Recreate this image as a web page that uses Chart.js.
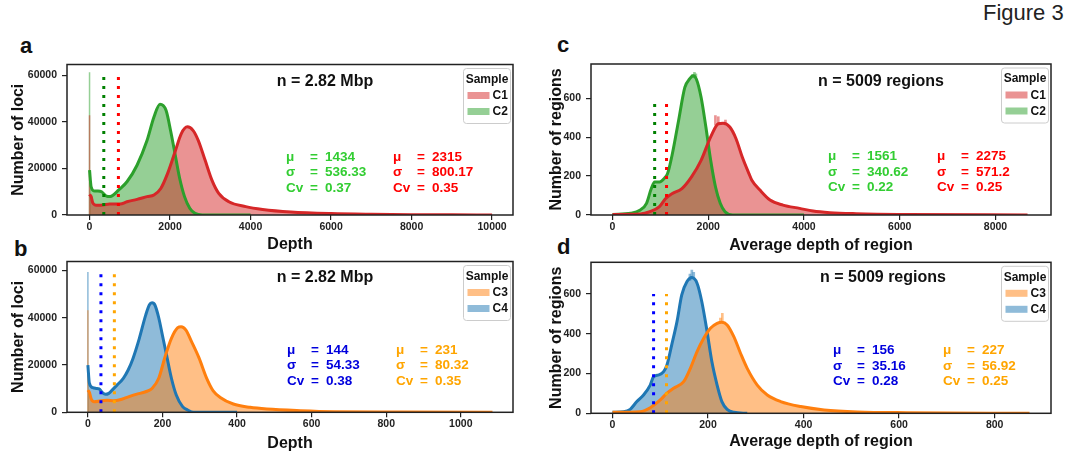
<!DOCTYPE html>
<html>
<head>
<meta charset="utf-8">
<script src="https://cdn.jsdelivr.net/npm/chart.js@4.4.0/dist/chart.umd.min.js"></script>
<style>
  body { margin: 0; width: 1080px; height: 460px; background: #fff; position: relative; overflow: hidden;
         font-family: "Liberation Sans", Arial, sans-serif; }
  canvas { position: absolute; }
  .letter { position: absolute; font-weight: bold; font-size: 22px; line-height: 22px; color: #111; }
  #fig-title { position: absolute; left: 983px; top: 2px; font-size: 22px; line-height: 22px; color: #222; }
</style>
</head>
<body>
<div id="fig-title">Figure 3</div>
<div class="letter" style="left:20px;top:35px">a</div>
<div class="letter" style="left:14px;top:238px">b</div>
<div class="letter" style="left:557px;top:34px">c</div>
<div class="letter" style="left:557px;top:236px">d</div>
<canvas id="chartA" width="540" height="215" style="left:0;top:40px;width:540px;height:215px"></canvas>
<canvas id="chartB" width="540" height="217" style="left:0;top:237px;width:540px;height:217px"></canvas>
<canvas id="chartC" width="540" height="215" style="left:540px;top:40px;width:540px;height:215px"></canvas>
<canvas id="chartD" width="540" height="217" style="left:540px;top:237px;width:540px;height:217px"></canvas>
<script>
// --- DATA ---
// panel a: depth per locus, C1 / C2
const aXTicks = [0, 2000, 4000, 6000, 8000, 10000];
const aYTicks = [0, 20000, 40000, 60000];
const aDepthC1 = [0, 40, 80, 170, 340, 500, 760, 930, 1180, 1430, 1600, 1770, 1940, 2110, 2280, 2430, 2570, 2700, 2870, 3040, 3210, 3460, 3880, 4300, 5000, 6000, 7000, 8000, 9000, 10000];
const aLociC1 = [8900, 7900, 5200, 4200, 4300, 4700, 4700, 5700, 6700, 7900, 8600, 11400, 17900, 26400, 35000, 37900, 36400, 32100, 23600, 15000, 9300, 5700, 3600, 2400, 1300, 600, 300, 150, 80, 0];
const aDepthC2 = [0, 40, 130, 210, 300, 420, 510, 590, 720, 930, 1180, 1430, 1600, 1750, 1900, 2020, 2130, 2240, 2360, 2490, 2620, 2800, 4000];
const aLociC2 = [19300, 12100, 10300, 10300, 10000, 8100, 7900, 8600, 10700, 14300, 21400, 32100, 42100, 47600, 45000, 35700, 25700, 15700, 7900, 2900, 700, 0, 0];
const aZeroC1 = 42900, aZeroC2 = 61400;
const aCutC1 = 717, aCutC2 = 354, aCutTop = 60000;
const aStatsC1 = [2315, 800.17, 0.35];
const aStatsC2 = [1434, 536.33, 0.37];

// panel b: depth per locus, C3 / C4
const bXTicks = [0, 200, 400, 600, 800, 1000];
const bYTicks = [0, 20000, 40000, 60000];
const bDepthC3 = [0, 4, 9, 17, 34, 52, 69, 86, 103, 129, 155, 172, 190, 207, 224, 241, 250, 263, 278, 298, 318, 336, 355, 390, 435, 480, 570, 660, 840, 1085];
const bLociC3 = [9400, 8500, 5600, 4500, 4900, 5100, 4900, 5300, 6200, 7600, 8700, 10100, 14400, 23500, 31300, 35800, 36200, 34800, 29900, 23000, 14600, 9100, 6300, 3500, 2100, 1400, 700, 280, 140, 0];
const bDepthC4 = [0, 4, 13, 22, 30, 39, 47, 56, 65, 78, 95, 108, 121, 138, 155, 165, 172, 180, 190, 200, 211, 224, 237, 254, 267, 284, 400];
const bLociC4 = [20000, 12300, 10400, 10100, 9900, 8300, 7600, 8000, 9400, 11500, 14400, 17900, 22800, 31300, 41100, 45500, 46300, 45300, 40000, 32500, 24200, 14400, 7300, 2400, 1000, 0, 0];
const bZeroC3 = 43200, bZeroC4 = 59400;
const bCutC3 = 71, bCutC4 = 35, bCutTop = 59300;
const bStatsC3 = [231, 80.32, 0.35];
const bStatsC4 = [144, 54.33, 0.38];

// panel c: average depth of region, C1 / C2
const cXTicks = [0, 2000, 4000, 6000, 8000];
const cYTicks = [0, 200, 400, 600];
const cDepthC1 = [0, 580, 780, 980, 1110, 1250, 1450, 1650, 1850, 2050, 2210, 2310, 2450, 2580, 2710, 2850, 2910, 3080, 3290, 3560, 3910, 4190, 4540, 5090, 6130, 8670];
const cRegionsC1 = [3, 5, 17, 43, 85, 111, 136, 196, 281, 401, 469, 472, 452, 392, 298, 213, 179, 128, 77, 51, 34, 20, 12, 7, 3, 0];
const cDepthC2 = [0, 380, 580, 710, 810, 880, 980, 1080, 1150, 1250, 1380, 1510, 1610, 1680, 1750, 1850, 1950, 2050, 2150, 2250, 2350, 2510, 4000];
const cRegionsC2 = [3, 9, 26, 60, 136, 170, 170, 188, 213, 315, 486, 656, 699, 716, 699, 605, 452, 281, 145, 60, 17, 0, 0];
// histogram bins that poke out above the density curve (bin, curve level, bin top)
const cBinsC1 = [2170, 2230, 2380];
const cBaseC1 = [462, 468, 464];
const cTopC1 = [511, 505, 488];
const cBinsC2 = [1650, 1690, 1720];
const cBaseC2 = [705, 714, 710];
const cTopC2 = [722, 733, 725];
const cCutC1 = 1128, cCutC2 = 880, cCutTop = 571;
const cStatsC1 = [2275, 571.2, 0.25];
const cStatsC2 = [1561, 340.62, 0.22];

// panel d: average depth of region, C3 / C4
const dXTicks = [0, 200, 400, 600, 800];
const dYTicks = [0, 200, 400, 600];
const dDepthC3 = [0, 58, 79, 100, 114, 128, 149, 163, 177, 191, 205, 219, 229, 240, 254, 268, 282, 303, 324, 352, 394, 443, 513, 617, 873];
const dRegionsC3 = [5, 8, 28, 67, 101, 126, 159, 226, 310, 377, 427, 452, 458, 444, 385, 302, 226, 142, 92, 59, 34, 17, 7, 3, 0];
const dDepthC4 = [0, 23, 37, 51, 65, 79, 86, 97, 107, 114, 124, 135, 145, 156, 166, 177, 187, 198, 208, 219, 229, 240, 254, 282];
const dRegionsC4 = [5, 8, 20, 59, 92, 142, 184, 193, 209, 243, 344, 461, 595, 662, 682, 654, 561, 411, 260, 142, 59, 20, 5, 0];
const dBinsC3 = [228, 232];
const dBaseC3 = [456, 457];
const dTopC3 = [478, 503];
const dBinsC4 = [160, 164, 168];
const dBaseC4 = [668, 676, 680];
const dTopC4 = [700, 720, 708];
const dCutC3 = 113, dCutC4 = 86, dCutTop = 600;
const dStatsC3 = [227, 56.92, 0.25];
const dStatsC4 = [156, 35.16, 0.28];

// --- STYLE ---
const FONT = "'Liberation Sans', Arial, sans-serif";
Chart.defaults.font.family = FONT;
Chart.defaults.color = '#222';

const RED = { line: '#d62728', fill: 'rgba(214,39,40,0.5)', text: '#ff0000', dot: '#ff0000' };
const GREEN = { line: '#2ca02c', fill: 'rgba(44,160,44,0.5)', text: '#32cd32', dot: '#008000' };
const ORANGE = { line: '#ff7f0e', fill: 'rgba(255,127,14,0.5)', text: '#ffa500', dot: '#ffa500' };
const BLUE = { line: '#1f77b4', fill: 'rgba(31,119,180,0.5)', text: '#0000dd', dot: '#0000ff' };

const pts = (xs, ys) => xs.map((x, i) => ({ x: x, y: ys[i] }));
const spans = (xs, lo, hi) => xs.map((x, i) => ({ x: x, y: [lo[i], hi[i]] }));

// --- DECORATION PLUGIN (frame, n text, stats, legend) ---
const panelDecor = {
    id: 'panelDecor',
    afterDraw(chart, args, o) {
        const { ctx, chartArea: ca } = chart;
        ctx.save();

        ctx.fillStyle = '#111';
        ctx.font = `bold 16px ${FONT}`;
        ctx.textAlign = 'center';
        ctx.textBaseline = 'middle';
        ctx.fillText(o.nText, ca.left + o.nX, ca.top + o.nY);

        // mean / sd / cv blocks
        ctx.font = `bold 13.5px ${FONT}`;
        ctx.textAlign = 'left';
        const labels = ['\u03bc', '\u03c3', 'Cv'];
        o.stats.forEach(st => {
            ctx.fillStyle = st.color;
            st.values.forEach((v, i) => {
                const x = ca.left + st.x;
                const y = ca.top + o.statsY + i * o.statsGap;
                ctx.fillText(labels[i], x, y);
                ctx.fillText('=', x + 24, y);
                ctx.fillText(String(v), x + 39, y);
            });
        });

        // legend box
        const w = 47, h = 55;
        const bx = ca.right - 2.5 - w, by = ca.top + 4;
        ctx.beginPath();
        ctx.roundRect(bx, by, w, h, 3);
        ctx.fillStyle = 'rgba(255,255,255,0.85)';
        ctx.fill();
        ctx.strokeStyle = '#cccccc';
        ctx.lineWidth = 1;
        ctx.stroke();
        ctx.fillStyle = '#111';
        ctx.font = `bold 12px ${FONT}`;
        ctx.textAlign = 'center';
        ctx.fillText('Sample', bx + w / 2, by + 11);
        ctx.textAlign = 'left';
        o.legend.forEach((item, i) => {
            const cy = by + 27 + i * 16;
            ctx.fillStyle = item.fill;
            ctx.fillRect(bx + 4, cy - 3.5, 22, 7);
            ctx.fillStyle = '#111';
            ctx.fillText(item.label, bx + 29, cy + 0.5);
        });

        // axes frame
        ctx.strokeStyle = '#222';
        ctx.lineWidth = 1.5;
        ctx.strokeRect(ca.left, ca.top, ca.right - ca.left, ca.bottom - ca.top);
        ctx.restore();
    }
};

function curve(data, col) {
    return {
        data: data, borderColor: col.line, backgroundColor: col.fill, borderWidth: 3,
        fill: 'origin', cubicInterpolationMode: 'monotone', pointRadius: 0
    };
}

function vline(x, top, color, width, dash) {
    return {
        data: [{ x: x, y: 0 }, { x: x, y: top }], borderColor: color, borderWidth: width,
        borderDash: dash || [], borderCapStyle: 'butt', fill: false, tension: 0, pointRadius: 0
    };
}

function bins(data, col) {
    return { type: 'bar', data: data, backgroundColor: col.fill, barThickness: 2, borderWidth: 0 };
}

function axis(p, horizontal) {
    const tickList = horizontal ? p.xTicks : p.yTicks;
    return {
        type: 'linear',
        offset: false,
        min: horizontal ? p.xRange[0] : 0,
        max: horizontal ? p.xRange[1] : p.yMax,
        afterFit: s => { if (horizontal) s.height = p.xAxisH; else s.width = p.yAxisW; },
        afterBuildTicks: s => { s.ticks = tickList.map(v => ({ value: v })); },
        grid: { drawOnChartArea: false, drawTicks: true, tickLength: 5, color: '#222', lineWidth: 1.2, offset: false },
        border: { display: false },
        ticks: {
            font: { size: 10.5, weight: 'bold' }, color: '#222', padding: horizontal ? 1 : 5,
            maxRotation: 0, autoSkip: false, callback: v => String(v)
        },
        title: {
            display: true, text: horizontal ? p.xTitle : p.yTitle,
            font: { size: 16, weight: 'bold' }, color: '#111',
            padding: horizontal ? { top: 0, bottom: p.xTitlePad } : { top: p.yTitlePad, bottom: 0 }
        }
    };
}

function buildPanel(id, p) {
    const datasets = [
        vline(p.cut2, p.cutTop, p.col2.dot, 3, [3, 6]),
        vline(p.cut1, p.cutTop, p.col1.dot, 3, [3, 6]),
        curve(p.s1, p.col1),
        curve(p.s2, p.col2)
    ];
    if (p.zero1) {
        datasets.push(vline(0, p.zero1, p.col1.fill, 1.5));
        datasets.push(vline(0, p.zero2, p.col2.fill, 1.5));
    }
    if (p.bins1) {
        datasets.push(bins(p.bins1, p.col1));
        datasets.push(bins(p.bins2, p.col2));
    }
    return new Chart(document.getElementById(id), {
        type: 'line',
        data: { datasets: datasets },
        plugins: [panelDecor],
        options: {
            responsive: false, animation: false, events: [],
            layout: { padding: { top: p.padTop, right: p.padRight, left: 0, bottom: 0 }, autoPadding: false },
            plugins: {
                legend: { display: false }, tooltip: { enabled: false },
                filler: { drawTime: 'beforeDatasetsDraw' },
                panelDecor: {
                    nText: p.nText, nX: p.nX, nY: p.nY,
                    statsY: p.statsY, statsGap: p.statsGap,
                    stats: [
                        { x: p.statsX2, color: p.col2.text, values: p.stats2 },
                        { x: p.statsX1, color: p.col1.text, values: p.stats1 }
                    ],
                    legend: [
                        { label: p.names[0], fill: p.col1.fill },
                        { label: p.names[1], fill: p.col2.fill }
                    ]
                }
            },
            scales: { x: axis(p, true), y: axis(p, false) }
        }
    });
}

// --- PANELS ---
buildPanel('chartA', {
    s1: pts(aDepthC1, aLociC1), s2: pts(aDepthC2, aLociC2), col1: RED, col2: GREEN, names: ['C1', 'C2'],
    zero1: aZeroC1, zero2: aZeroC2, cut1: aCutC1, cut2: aCutC2, cutTop: aCutTop,
    xTicks: aXTicks, yTicks: aYTicks, xRange: [-560, 10520], yMax: 64700,
    xTitle: 'Depth', yTitle: 'Number of loci',
    padTop: 24.5, padRight: 27, xAxisH: 40, yAxisW: 67, xTitlePad: 0.4, yTitlePad: 9.4,
    nText: 'n = 2.82 Mbp', nX: 258, nY: 17,
    stats1: aStatsC1, stats2: aStatsC2, statsX1: 326, statsX2: 219, statsY: 92.5, statsGap: 15.5
});

buildPanel('chartB', {
    s1: pts(bDepthC3, bLociC3), s2: pts(bDepthC4, bLociC4), col1: ORANGE, col2: BLUE, names: ['C3', 'C4'],
    zero1: bZeroC3, zero2: bZeroC4, cut1: bCutC3, cut2: bCutC4, cutTop: bCutTop,
    xTicks: bXTicks, yTicks: bYTicks, xRange: [-56, 1140], yMax: 63800,
    xTitle: 'Depth', yTitle: 'Number of loci',
    padTop: 24.5, padRight: 27, xAxisH: 41.7, yAxisW: 67, xTitlePad: 0.9, yTitlePad: 9.4,
    nText: 'n = 2.82 Mbp', nX: 258, nY: 16.5,
    stats1: bStatsC3, stats2: bStatsC4, statsX1: 329, statsX2: 220, statsY: 88.5, statsGap: 15.5
});

buildPanel('chartC', {
    s1: pts(cDepthC1, cRegionsC1), s2: pts(cDepthC2, cRegionsC2), col1: RED, col2: GREEN, names: ['C1', 'C2'],
    bins1: spans(cBinsC1, cBaseC1, cTopC1), bins2: spans(cBinsC2, cBaseC2, cTopC2),
    cut1: cCutC1, cut2: cCutC2, cutTop: cCutTop,
    xTicks: cXTicks, yTicks: cYTicks, xRange: [-450, 9160], yMax: 776,
    xTitle: 'Average depth of region', yTitle: 'Number of regions',
    padTop: 24, padRight: 29, xAxisH: 40, yAxisW: 51, xTitlePad: 0, yTitlePad: 7.4,
    nText: 'n = 5009 regions', nX: 290, nY: 18,
    stats1: cStatsC1, stats2: cStatsC2, statsX1: 346, statsX2: 237, statsY: 92.5, statsGap: 15.5
});

buildPanel('chartD', {
    s1: pts(dDepthC3, dRegionsC3), s2: pts(dDepthC4, dRegionsC4), col1: ORANGE, col2: BLUE, names: ['C3', 'C4'],
    bins1: spans(dBinsC3, dBaseC3, dTopC3), bins2: spans(dBinsC4, dBaseC4, dTopC4),
    cut1: dCutC3, cut2: dCutC4, cutTop: dCutTop,
    xTicks: dXTicks, yTicks: dYTicks, xRange: [-45, 918], yMax: 759,
    xTitle: 'Average depth of region', yTitle: 'Number of regions',
    padTop: 25.3, padRight: 29, xAxisH: 40.7, yAxisW: 51, xTitlePad: 2.4, yTitlePad: 7.4,
    nText: 'n = 5009 regions', nX: 292, nY: 15.5,
    stats1: dStatsC3, stats2: dStatsC4, statsX1: 352, statsX2: 242, statsY: 88, statsGap: 15.5
});
</script>
</body>
</html>
